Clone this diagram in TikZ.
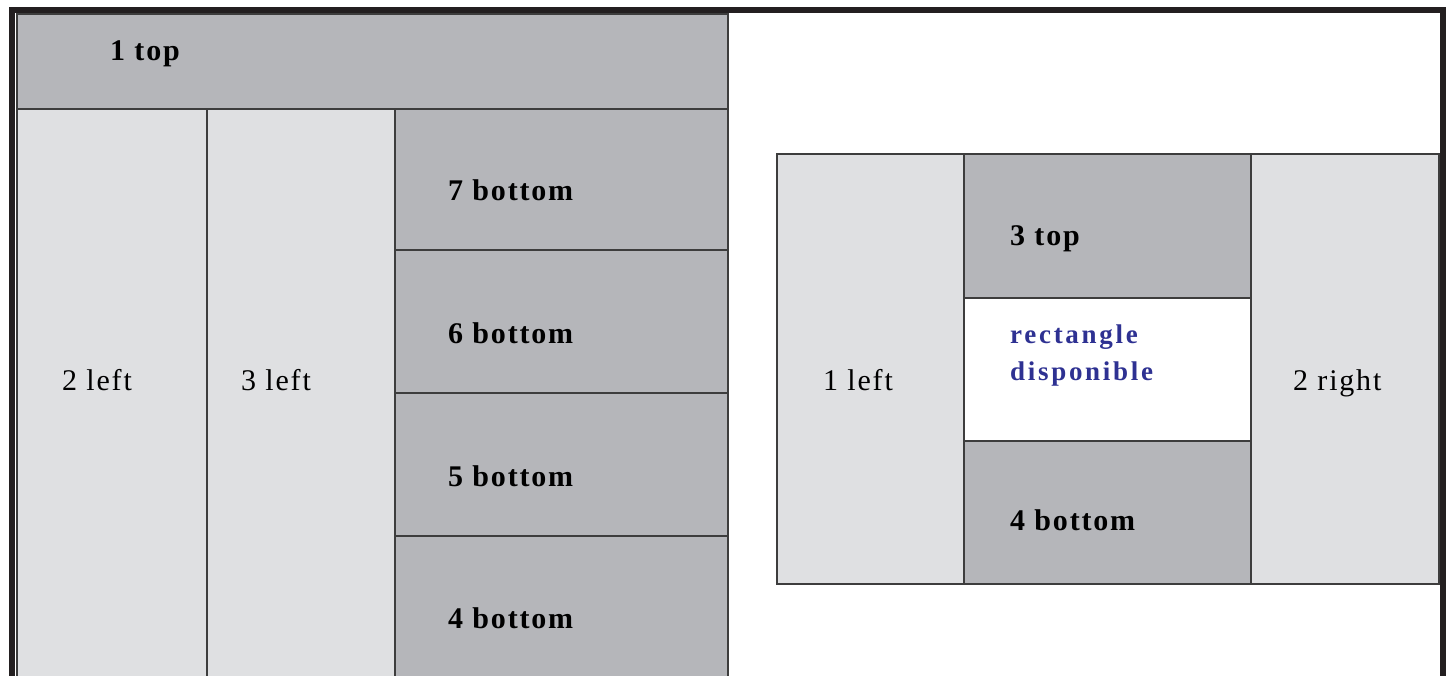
\documentclass[tikz,border=0pt]{standalone}
\usepackage{fontspec}
\setmainfont{Liberation Serif}[LetterSpace=6]
\newfontfamily\bluefont{Liberation Serif}[LetterSpace=10]

\definecolor{framedark}{HTML}{231F20}
\definecolor{linegray}{HTML}{3D3D3D}
\definecolor{cellgray}{HTML}{B5B6BA}
\definecolor{cellpale}{HTML}{DFE0E2}
\definecolor{textblue}{HTML}{2E3192}

\begin{document}
\begin{tikzpicture}[x=1pt, y=-1pt,
  cell/.style={draw=linegray, line width=2pt, inner sep=0pt, anchor=north west},
  darkcell/.style={cell, fill=cellgray},
  palecell/.style={cell, fill=cellpale},
  opencell/.style={cell, fill=white},
  lbl/.style={anchor=base west, inner sep=0pt, font=\fontsize{30}{30}\selectfont},
  lblbold/.style={lbl, font=\fontsize{30}{30}\selectfont\bfseries},
  lblblue/.style={anchor=base west, inner sep=0pt, align=left, text=textblue,
    font=\fontsize{27}{37}\selectfont\bluefont\bfseries}]

\useasboundingbox (0,0) rectangle (1451,675);
\clip (0,0) rectangle (1451,675);

% outer frame
\fill[framedark] (9,7) rectangle (1446,700);
\fill[white] (15,13) rectangle (1440,700);

% left layout
\node[darkcell, minimum width=711pt, minimum height=95pt] (top1) at (16,13) {};
\node[palecell, minimum width=190pt, minimum height=580pt] (left2) at (16,108) {};
\node[palecell, minimum width=188pt, minimum height=580pt] (left3) at (206,108) {};
\node[darkcell, minimum width=333pt, minimum height=141pt] (bot7) at (394,108) {};
\node[darkcell, minimum width=333pt, minimum height=143pt] (bot6) at (394,249) {};
\node[darkcell, minimum width=333pt, minimum height=143pt] (bot5) at (394,392) {};
\node[darkcell, minimum width=333pt, minimum height=150pt] (bot4) at (394,535) {};

% right layout
\node[palecell, minimum width=187pt, minimum height=430pt] (rleft1) at (776,153) {};
\node[darkcell, minimum width=287pt, minimum height=144pt] (rtop3) at (963,153) {};
\node[opencell, minimum width=287pt, minimum height=143pt] (rfree) at (963,297) {};
\node[darkcell, minimum width=287pt, minimum height=143pt] (rbot4) at (963,440) {};
\node[palecell, minimum width=188pt, minimum height=430pt] (rright2) at (1250,153) {};

% labels
\node[lblbold] (ltop1) at (110,60) {1 top};
\node[lbl] (lleft2) at (62,390) {2 left};
\node[lbl] (lleft3) at (241,390) {3 left};
\node[lblbold] (lbot7) at (448,200) {7 bottom};
\node[lblbold] (lbot6) at (448,343) {6 bottom};
\node[lblbold] (lbot5) at (448,486) {5 bottom};
\node[lblbold] (lbot4) at (448,628) {4 bottom};

\node[lbl] (lrleft1) at (823,390) {1 left};
\node[lblbold] (lrtop3) at (1010,245) {3 top};
% base anchor of a two-line node sits on its last line
\node[lblblue] (lrfree) at (1010,380) {rectangle\\disponible};
\node[lblbold] (lrbot4) at (1010,530) {4 bottom};
\node[lbl] (lrright2) at (1293,390) {2 right};

\end{tikzpicture}
\end{document}
